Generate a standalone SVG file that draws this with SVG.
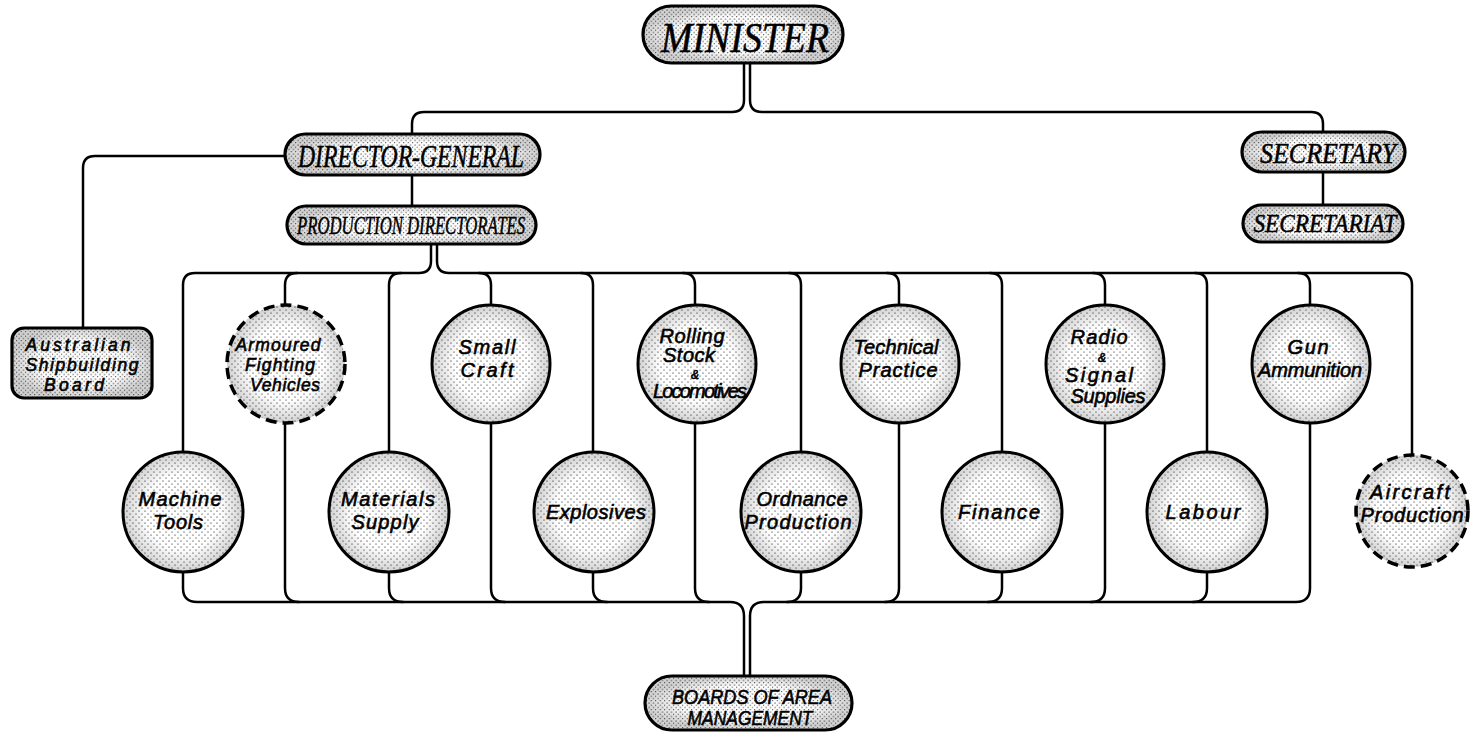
<svg xmlns="http://www.w3.org/2000/svg" width="1471" height="734" viewBox="0 0 1471 734">
<defs>
<pattern id="stip" width="6" height="6" patternUnits="userSpaceOnUse">
<rect width="6" height="6" fill="#fff"/>
<circle cx="1" cy="1" r="0.6" fill="#000"/>
<circle cx="4" cy="4" r="0.55" fill="#000"/>
</pattern>
<pattern id="stipd" width="4.5" height="4.5" patternUnits="userSpaceOnUse">
<rect width="4.5" height="4.5" fill="#fff"/>
<circle cx="1" cy="1" r="0.6" fill="#000"/>
<circle cx="3.25" cy="3.25" r="0.55" fill="#000"/>
</pattern>
<radialGradient id="edge" cx="50%" cy="50%" r="50%">
<stop offset="0.62" stop-color="#000" stop-opacity="0"/>
<stop offset="1" stop-color="#000" stop-opacity="0.18"/>
</radialGradient>
</defs>
<style>
.pill{fill:url(#stipd);stroke:#000;stroke-width:3.2}
.circ{fill:url(#stip);stroke:#000;stroke-width:3}
.dash{stroke-dasharray:11 6;stroke-width:3.5}
.shade{fill:url(#edge);stroke:none}
.conn path{fill:none;stroke:#000;stroke-width:2.5;stroke-linecap:round}
.t{font-family:"Liberation Sans",Arial,sans-serif;font-style:italic;font-size:20px;text-anchor:middle;fill:#000;stroke:#000;stroke-width:0.6}
.s{font-family:"Liberation Serif","Times New Roman",serif;font-style:italic;text-anchor:middle;fill:#000;stroke:#000;stroke-width:0.5}
.m{font-size:17.5px}
.amp{font-size:12px}
</style>
<rect width="1471" height="734" fill="#fff"/>

<g id="connectors" class="conn">
<path d="M744,63 V100 Q744,112 732,112 H424 Q412,112 412,124 V134"/>
<path d="M750,63 V100 Q750,112 762,112 H1311 Q1323,112 1323,124 V132"/>
<path d="M412,175 V206"/>
<path d="M285,156 H95 Q83,156 83,168 V328"/>
<path d="M1323,172 V205"/>
<path d="M431,244 V261 Q431,273 419,273 H195 Q183,273 183,285 V452"/>
<path d="M437,244 V261 Q437,273 449,273 H1400 Q1412,273 1412,285 V455"/>
<path d="M297,273 Q285,273 285,285 V305"/>
<path d="M401,273 Q389,273 389,285 V452"/>
<path d="M479,273 Q491,273 491,285 V305"/>
<path d="M581,273 Q593,273 593,285 V452"/>
<path d="M683,273 Q695,273 695,285 V305"/>
<path d="M789,273 Q801,273 801,285 V452"/>
<path d="M887,273 Q899,273 899,285 V305"/>
<path d="M990,273 Q1002,273 1002,285 V452"/>
<path d="M1093,273 Q1105,273 1105,285 V305"/>
<path d="M1195,273 Q1207,273 1207,285 V452"/>
<path d="M1298,273 Q1310,273 1310,285 V305"/>
<path d="M744,676 V616 Q744,602 730,602 H197 Q183,602 183,588 V572"/>
<path d="M750,676 V616 Q750,602 764,602 H1296 Q1310,602 1310,588 V423"/>
<path d="M285,423 V588 Q285,602 299,602"/>
<path d="M389,572 V588 Q389,602 403,602"/>
<path d="M491,423 V588 Q491,602 505,602"/>
<path d="M593,572 V588 Q593,602 607,602"/>
<path d="M695,423 V588 Q695,602 709,602"/>
<path d="M801,572 V588 Q801,602 787,602"/>
<path d="M899,423 V588 Q899,602 885,602"/>
<path d="M1002,572 V588 Q1002,602 988,602"/>
<path d="M1105,423 V588 Q1105,602 1091,602"/>
<path d="M1207,572 V588 Q1207,602 1193,602"/>
</g>

<g id="minister">
<rect class="pill" x="643" y="6" width="200" height="57" rx="28.5"/>
<rect class="shade" x="643" y="6" width="200" height="57" rx="28.5"/>
<text class="s" x="745" y="52" font-size="42" textLength="168" lengthAdjust="spacingAndGlyphs">MINISTER</text>
</g>
<g id="director-general">
<rect class="pill" x="285" y="134" width="255" height="41" rx="20.5"/>
<rect class="shade" x="285" y="134" width="255" height="41" rx="20.5"/>
<text class="s" x="411" y="167" font-size="31" textLength="226" lengthAdjust="spacingAndGlyphs">DIRECTOR-GENERAL</text>
</g>
<g id="production-directorates">
<rect class="pill" x="287" y="206" width="249" height="38" rx="19"/>
<rect class="shade" x="287" y="206" width="249" height="38" rx="19"/>
<text class="s" x="411" y="234" font-size="25" textLength="228" lengthAdjust="spacingAndGlyphs">PRODUCTION DIRECTORATES</text>
</g>
<g id="secretary">
<rect class="pill" x="1242" y="132" width="163" height="40" rx="20"/>
<rect class="shade" x="1242" y="132" width="163" height="40" rx="20"/>
<text class="s" x="1328" y="163" font-size="30" textLength="136" lengthAdjust="spacingAndGlyphs">SECRETARY</text>
</g>
<g id="secretariat">
<rect class="pill" x="1243" y="205" width="160" height="37" rx="18.5"/>
<rect class="shade" x="1243" y="205" width="160" height="37" rx="18.5"/>
<text class="s" x="1325" y="232" font-size="25" textLength="143" lengthAdjust="spacingAndGlyphs">SECRETARIAT</text>
</g>
<g id="australian-shipbuilding-board">
<rect class="pill" x="12" y="328" width="140" height="70" rx="12" stroke-width="3.5"/>
<rect class="shade" x="12" y="328" width="140" height="70" rx="12"/>
<text class="t m"><tspan x="78" y="351" textLength="105">Australian</tspan><tspan x="82" y="371" textLength="113">Shipbuilding</tspan><tspan x="74" y="391" textLength="60">Board</tspan></text>
</g>
<g id="boards-of-area-management">
<rect class="pill" x="645" y="676" width="207" height="54" rx="27"/>
<rect class="shade" x="645" y="676" width="207" height="54" rx="27"/>
<text class="t" font-size="18"><tspan x="752" y="704" textLength="160" lengthAdjust="spacingAndGlyphs">BOARDS OF AREA</tspan><tspan x="750" y="725" textLength="125" lengthAdjust="spacingAndGlyphs">MANAGEMENT</tspan></text>
</g>

<g id="armoured-fighting-vehicles">
<circle class="circ dash" cx="286" cy="364" r="59"/>
<circle class="shade" cx="286" cy="364" r="59"/>
<text class="t m"><tspan x="278" y="351" textLength="85">Armoured</tspan><tspan x="280" y="371" textLength="70">Fighting</tspan><tspan x="285" y="391" textLength="70">Vehicles</tspan></text>
</g>
<g id="small-craft">
<circle class="circ" cx="491" cy="364" r="59"/>
<circle class="shade" cx="491" cy="364" r="59"/>
<text class="t"><tspan x="487" y="354" textLength="57">Small</tspan><tspan x="487" y="377" textLength="53">Craft</tspan></text>
</g>
<g id="rolling-stock-locomotives">
<circle class="circ" cx="697" cy="364" r="59"/>
<circle class="shade" cx="697" cy="364" r="59"/>
<text class="t" font-size="17"><tspan x="692" y="342.5" textLength="65">Rolling</tspan><tspan x="689" y="362" textLength="52">Stock</tspan><tspan class="amp" x="695" y="379">&amp;</tspan><tspan x="700" y="398" textLength="94">Locomotives</tspan></text>
</g>
<g id="technical-practice">
<circle class="circ" cx="900" cy="364" r="59"/>
<circle class="shade" cx="900" cy="364" r="59"/>
<text class="t"><tspan x="896" y="354" textLength="85">Technical</tspan><tspan x="898" y="377" textLength="79">Practice</tspan></text>
</g>
<g id="radio-signal-supplies">
<circle class="circ" cx="1105" cy="364" r="59"/>
<circle class="shade" cx="1105" cy="364" r="59"/>
<text class="t" font-size="18"><tspan x="1099" y="344" textLength="57">Radio</tspan><tspan class="amp" x="1102" y="362">&amp;</tspan><tspan x="1099" y="382" textLength="68">Signal</tspan><tspan x="1108" y="403" textLength="75">Supplies</tspan></text>
</g>
<g id="gun-ammunition">
<circle class="circ" cx="1311" cy="364" r="59"/>
<circle class="shade" cx="1311" cy="364" r="59"/>
<text class="t"><tspan x="1308" y="354" textLength="41">Gun</tspan><tspan x="1310" y="377" textLength="104">Ammunition</tspan></text>
</g>

<g id="machine-tools">
<circle class="circ" cx="183" cy="512" r="60"/>
<circle class="shade" cx="183" cy="512" r="60"/>
<text class="t"><tspan x="180" y="506" textLength="83">Machine</tspan><tspan x="178" y="529" textLength="50">Tools</tspan></text>
</g>
<g id="materials-supply">
<circle class="circ" cx="389" cy="512" r="60"/>
<circle class="shade" cx="389" cy="512" r="60"/>
<text class="t"><tspan x="388" y="506" textLength="94">Materials</tspan><tspan x="385" y="529" textLength="67">Supply</tspan></text>
</g>
<g id="explosives">
<circle class="circ" cx="594" cy="512" r="60"/>
<circle class="shade" cx="594" cy="512" r="60"/>
<text class="t" x="596" y="519" textLength="100">Explosives</text>
</g>
<g id="ordnance-production">
<circle class="circ" cx="801" cy="512" r="60"/>
<circle class="shade" cx="801" cy="512" r="60"/>
<text class="t"><tspan x="802" y="506" textLength="91">Ordnance</tspan><tspan x="798" y="529" textLength="107">Production</tspan></text>
</g>
<g id="finance">
<circle class="circ" cx="1002" cy="512" r="60"/>
<circle class="shade" cx="1002" cy="512" r="60"/>
<text class="t" x="999" y="519" textLength="82">Finance</text>
</g>
<g id="labour">
<circle class="circ" cx="1207" cy="512" r="60"/>
<circle class="shade" cx="1207" cy="512" r="60"/>
<text class="t" x="1203" y="519" textLength="75">Labour</text>
</g>
<g id="aircraft-production">
<circle class="circ dash" cx="1412" cy="511" r="56"/>
<circle class="shade" cx="1412" cy="511" r="56"/>
<text class="t"><tspan x="1410" y="499" textLength="80">Aircraft</tspan><tspan x="1412" y="522" textLength="103">Production</tspan></text>
</g>
</svg>
